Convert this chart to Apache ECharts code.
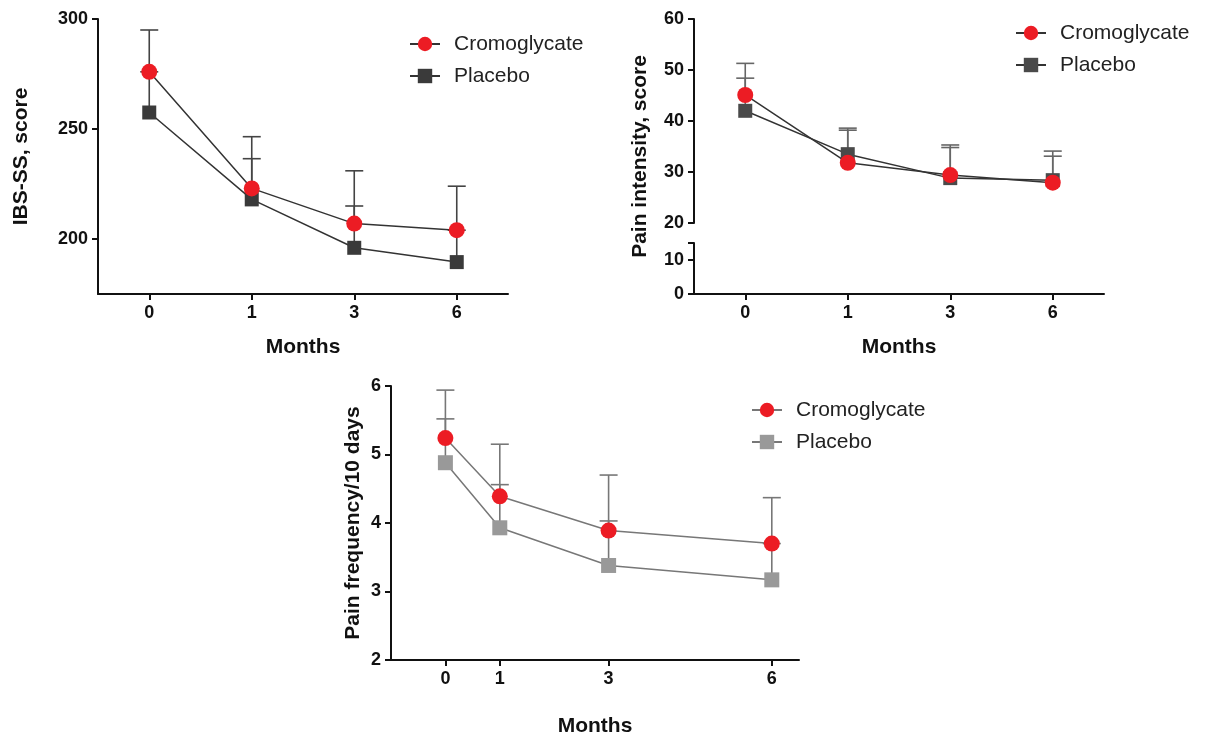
<!DOCTYPE html>
<html>
<head>
<meta charset="utf-8">
<script src="https://cdn.jsdelivr.net/npm/echarts@6/dist/echarts.min.js"></script>
<style>
html,body{margin:0;padding:0;background:#fff}
#chart{width:1205px;height:738px}
</style>
</head>
<body>
<div id="chart"></div>
<script>
// x categories / positions
var months = ['0', '1', '3', '6'];
var monthValues = [0, 1, 3, 6];

// IBS-SS (mean and top of error bar)
var ibsCromo = [276, 223, 207, 204];
var ibsCromoTop = [295, 246.5, 231, 224];
var ibsPlacebo = [257.5, 218, 196, 189.5];
var ibsPlaceboTop = [276, 236.5, 215, 204];
var ibsTicks = [200, 250, 300];

// pain intensity
var painCromo = [45.1, 31.8, 29.4, 27.9];
var painCromoTop = [51.3, 38.2, 35.3, 33.1];
var painPlacebo = [42.0, 33.5, 28.8, 28.4];
var painPlaceboTop = [48.4, 38.6, 34.8, 34.1];
var painLowTicks = [0, 10];

// pain frequency / 10 days
var freqCromo = [5.24, 4.39, 3.89, 3.70];
var freqCromoTop = [5.94, 5.15, 4.70, 4.37];
var freqPlacebo = [4.88, 3.93, 3.38, 3.17];
var freqPlaceboTop = [5.52, 4.56, 4.03, 3.70];

var FONT = "'Liberation Sans', Arial, Helvetica, sans-serif";
var RED = '#ec1c24';

var chart = echarts.init(document.getElementById('chart'));

function axisBase(){
	return {
		axisLine:{show:true, onZero:false, lineStyle:{color:'#111', width:2}},
		axisTick:{show:true, length:6, lineStyle:{color:'#111', width:2}},
		axisLabel:{color:'#111', fontFamily:FONT, fontWeight:'bold', fontSize:18},
		splitLine:{show:false},
		nameTextStyle:{color:'#111', fontFamily:FONT, fontWeight:'bold', fontSize:21}
	};
}
function catX(grid, extra){
	var a = axisBase();
	a.type = 'category'; a.gridIndex = grid; a.data = months; a.boundaryGap = true;
	a.axisTick.alignWithLabel = true;
	a.axisLabel.margin = 10;
	return Object.assign(a, extra || {});
}
function valY(grid, extra){
	var a = axisBase();
	a.type = 'value'; a.gridIndex = grid;
	a.axisLabel.margin = 10;
	return Object.assign(a, extra || {});
}

function lineSeries(name, ax, xs, ys, symbol, size, color, lineColor, z){
	return {
		type:'line', name:name, xAxisIndex:ax, yAxisIndex:ax,
		data: xs.map(function(x, i){ return [x, ys[i]]; }),
		symbol:symbol, symbolSize:size, showSymbol:true, z:z,
		itemStyle:{color:color}, lineStyle:{color:lineColor, width:1.5},
		emphasis:{disabled:true}, animation:false
	};
}
function errorBars(ax, xs, means, tops, color){
	return {
		type:'custom', xAxisIndex:ax, yAxisIndex:ax, silent:true, z:1, animation:false,
		data: xs.map(function(x, i){ return [x, means[i], tops[i]]; }),
		renderItem:function(params, api){
			var p0 = api.coord([api.value(0), api.value(1)]);
			var p1 = api.coord([api.value(0), api.value(2)]);
			var st = {stroke:color, lineWidth:1.6};
			return {type:'group', children:[
				{type:'line', shape:{x1:p0[0], y1:p0[1], x2:p1[0], y2:p1[1]}, style:st},
				{type:'line', shape:{x1:p1[0]-9, y1:p1[1], x2:p1[0]+9, y2:p1[1]}, style:st}
			]};
		}
	};
}
function legendFor(panel, left, top){
	return {
		data:['Cromoglycate#' + panel, 'Placebo#' + panel],
		orient:'vertical', left:left, top:top,
		itemWidth:30, itemHeight:18, itemGap:10,
		textStyle:{fontFamily:FONT, fontSize:21, color:'#222', padding:[0,0,0,9], lineHeight:22},
		formatter:function(n){ return n.split('#')[0]; },
		selectedMode:false
	};
}

var idx = [0, 1, 2, 3];

var option = {
	backgroundColor:'#fff',
	animation:false,
	grid:[
		{left:98, top:19, width:410, height:275},
		{left:694, top:19, width:410, height:204},
		{left:694, top:243, width:410, height:51},
		{left:694, top:19, width:410, height:275},
		{left:391, top:386, width:408, height:274}
	],
	xAxis:[
		catX(0, {name:'Months', nameLocation:'middle', nameGap:43}),
		catX(1, {show:false}),
		catX(2, {name:'Months', nameLocation:'middle', nameGap:43}),
		{type:'value', gridIndex:3, show:false, min:0, max:1},
		(function(){
			var a = axisBase();
			a.type = 'value'; a.gridIndex = 4; a.min = -1; a.max = 6.5;
			a.axisLabel.customValues = monthValues; a.axisLabel.margin = 10;
			a.axisTick.customValues = monthValues;
			a.name = 'Months'; a.nameLocation = 'middle'; a.nameGap = 56;
			return a;
		})()
	],
	yAxis:[
		(function(){
			var a = valY(0, {min:175, max:300, name:'IBS-SS, score', nameLocation:'middle', nameGap:66});
			a.axisLabel.customValues = ibsTicks;
			a.axisTick.customValues = ibsTicks;
			return a;
		})(),
		valY(1, {min:20, max:60, interval:10}),
		(function(){
			var a = valY(2, {min:0, max:15});
			a.axisLabel.customValues = painLowTicks;
			a.axisTick.customValues = [0, 10, 15];
			return a;
		})(),
		{type:'value', gridIndex:3, min:0, max:1, name:'Pain intensity, score', nameLocation:'middle', nameGap:43,
			axisLine:{show:false}, axisTick:{show:false}, axisLabel:{show:false}, splitLine:{show:false},
			nameTextStyle:{color:'#111', fontFamily:FONT, fontWeight:'bold', fontSize:21}},
		valY(4, {min:2, max:6, interval:1, name:'Pain frequency/10 days', nameLocation:'middle', nameGap:27})
	],
	legend:[
		legendFor(1, 404, 28),
		legendFor(2, 1010, 17),
		legendFor(3, 746, 394)
	],
	series:[
		errorBars(0, idx, ibsPlacebo, ibsPlaceboTop, '#444'),
		errorBars(0, idx, ibsCromo, ibsCromoTop, '#444'),
		lineSeries('Placebo#1', 0, idx, ibsPlacebo, 'rect', 14, '#3a3a3a', '#333', 3),
		lineSeries('Cromoglycate#1', 0, idx, ibsCromo, 'circle', 16, RED, '#333', 4),

		errorBars(1, idx, painPlacebo, painPlaceboTop, '#666'),
		errorBars(1, idx, painCromo, painCromoTop, '#666'),
		lineSeries('Placebo#2', 1, idx, painPlacebo, 'rect', 14, '#4a4a4a', '#333', 3),
		lineSeries('Cromoglycate#2', 1, idx, painCromo, 'circle', 16, RED, '#333', 4),

		errorBars(4, monthValues, freqPlacebo, freqPlaceboTop, '#777'),
		errorBars(4, monthValues, freqCromo, freqCromoTop, '#777'),
		lineSeries('Placebo#3', 4, monthValues, freqPlacebo, 'rect', 15, '#999', '#777', 3),
		lineSeries('Cromoglycate#3', 4, monthValues, freqCromo, 'circle', 16, RED, '#777', 4)
	]
};
chart.setOption(option);
</script>
</body>
</html>
